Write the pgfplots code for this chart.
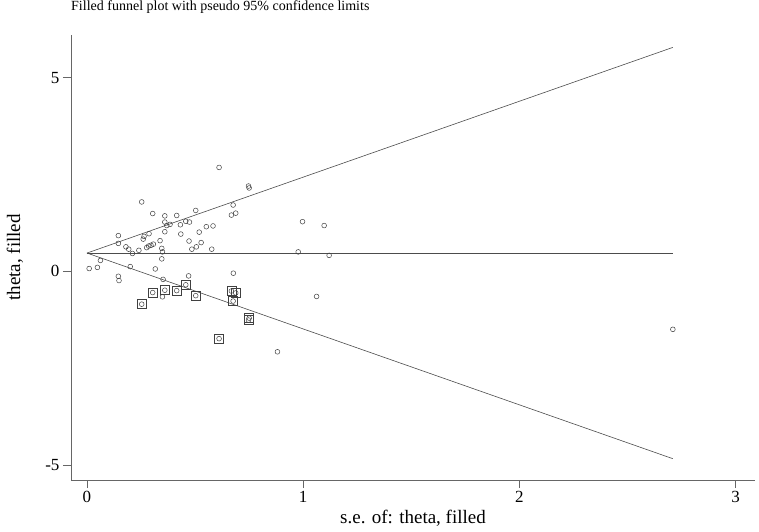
\documentclass[border=0pt]{standalone}
\usepackage{fontspec}
\setmainfont{Liberation Serif}
\usepackage{pgfplots}
\pgfplotsset{compat=1.18}
\usepackage{pgfplotstable}
\pgfplotstableread{
x y
0.010 0.07
0.048 0.10
0.062 0.28
0.145 0.92
0.145 0.72
0.145 -0.13
0.148 -0.24
0.180 0.63
0.193 0.57
0.200 0.12
0.210 0.46
0.240 0.54
0.253 1.79
0.260 0.83
0.264 0.90
0.276 0.61
0.287 0.97
0.285 0.65
0.296 0.67
0.307 0.70
0.304 1.49
0.316 0.06
0.338 0.79
0.346 0.59
0.349 0.50
0.346 0.32
0.352 -0.21
0.360 1.43
0.360 1.27
0.360 1.02
0.369 1.18
0.384 1.21
0.415 1.44
0.432 1.20
0.434 0.96
0.457 1.29
0.474 1.27
0.472 0.78
0.485 0.57
0.503 1.57
0.506 0.63
0.519 1.01
0.528 0.74
0.552 1.15
0.583 1.17
0.577 0.57
0.611 2.68
0.747 2.20
0.750 2.15
0.676 1.71
0.688 1.50
0.668 1.45
0.677 -0.05
0.470 -0.12
0.349 -0.66
0.997 1.28
1.097 1.18
0.977 0.50
1.120 0.41
1.062 -0.65
0.881 -2.08
2.710 -1.50
}\orig
\pgfplotstableread{
x y
0.253 -0.85
0.304 -0.55
0.360 -0.49
0.415 -0.50
0.457 -0.35
0.503 -0.63
0.611 -1.74
0.668 -0.51
0.688 -0.56
0.676 -0.77
0.747 -1.26
0.750 -1.21
}\filled
\begin{document}
\begin{tikzpicture}
\begin{axis}[
  scale only axis, width=684pt, height=445pt,
  xmin=-0.074, xmax=3.09, ymin=-5.39, ymax=6.10,
  axis x line*=bottom, axis y line*=left,
  axis line style={black!60, line width=0.6pt, -},
  xtick={0,1,2,3}, ytick={-5,0,5},
  tick align=outside, major tick length=8pt,
  tick style={black!60, line width=0.6pt},
  minor tick num=0,
  ticklabel style={font=\fontsize{17}{17}\selectfont},
  /pgf/number format/assume math mode=true,
  xlabel={s.e. of: theta, filled}, ylabel={theta, filled},
  label style={font=\fontsize{19}{19}\selectfont},
  xlabel style={at={(axis description cs:0.5,-0.097)}, anchor=base, inner sep=0pt},
  ylabel style={at={(axis description cs:-0.082,0.5)}, anchor=center, inner sep=0pt},
  title={Filled funnel plot with pseudo 95\% confidence limits},
  title style={at={(axis description cs:0,1)}, anchor=base west, yshift=18pt, inner sep=0pt, font=\fontsize{14}{14}\selectfont},
  clip=false,
]
\addplot[black!70, line width=0.6pt] coordinates {(0,0.47) (2.71,5.78)};
\addplot[black!70, line width=0.6pt] coordinates {(0,0.47) (2.71,0.47)};
\addplot[black!70, line width=0.6pt] coordinates {(0,0.47) (2.71,-4.84)};
\addplot[only marks, mark=o, mark size=2.4pt, black!75, mark options={line width=0.5pt}] table[x=x,y=y] {\orig};
\addplot[only marks, mark=o, mark size=2.4pt, black!75, mark options={line width=0.5pt}] table[x=x,y=y] {\filled};
\addplot[only marks, mark=square, mark size=4.5pt, black!75, mark options={line width=0.5pt}] table[x=x,y=y] {\filled};
\coordinate (O) at (rel axis cs:0,0);
\end{axis}
\path (O) ++(-71pt,-51pt) rectangle ++(759pt,531pt);
\end{tikzpicture}
\end{document}
